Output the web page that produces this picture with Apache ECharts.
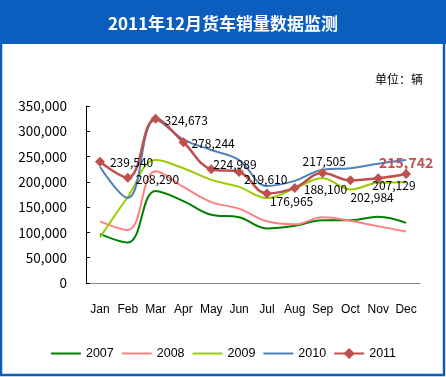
<!DOCTYPE html>
<html>
<head>
<meta charset="utf-8">
<script src="https://cdn.jsdelivr.net/npm/echarts@6/dist/echarts.min.js"></script>
<style>
  html, body { margin: 0; padding: 0; background: #fff; }
  #chart { width: 446px; height: 377px; }
</style>
</head>
<body>
<div id="chart"></div>
<script>
// values (units: vehicles)
const months = ['Jan', 'Feb', 'Mar', 'Apr', 'May', 'Jun', 'Jul', 'Aug', 'Sep', 'Oct', 'Nov', 'Dec'];
const years = ['2007', '2008', '2009', '2010', '2011'];
const sales2007 = [97000, 80000, 182000, 162000, 135000, 130000, 108000, 113000, 124000, 124000, 131000, 119000];
const sales2008 = [122000, 105000, 221000, 190000, 160000, 147000, 122000, 116000, 130000, 123000, 112000, 102000];
const sales2009 = [90000, 170000, 243000, 227000, 204000, 190000, 168000, 187000, 207000, 185000, 198000, 199000];
const sales2010 = [230000, 168000, 323000, 284000, 263000, 243000, 192000, 202000, 224000, 227000, 236000, 243000];
const sales2011 = [239540, 208290, 324673, 278244, 224989, 219610, 176965, 188100, 217505, 202984, 207129, 215742];
const yMax = 350000;
const yStep = 50000;

const colors = ['#008000', '#FF8080', '#99CC00', '#4F81BD', '#C0504D'];
const blue = '#0B5EBE';

// where each 2011 label sits, relative to the right of its marker
const labelShift = [[0, 1], [-2, 2], [-1, 2], [-2, 1], [-8, -5], [-5, 7], [-7, 8],
                    [-1, 2], [-30, -12], [-10, 17], [-16, 7], [-37, -11]];

const fmt = v => String(v).replace(/\B(?=(\d{3})+(?!\d))/g, ',');

const chart = echarts.init(document.getElementById('chart'));

const plain = (name, data, i) => ({
    name: name,
    type: 'line',
    data: data,
    smooth: 0.4,
    symbol: 'none',
    lineStyle: { width: 2, color: colors[i] },
    itemStyle: { color: colors[i] }
});

const last = sales2011.length - 1;
const data2011 = sales2011.map((v, i) => {
    const item = { value: v, label: { offset: labelShift[i] } };
    if (i === last) {
        item.label.color = colors[4];
        item.label.fontWeight = 'bold';
        item.label.fontSize = 14;
    }
    return item;
});

// plain lines in the legend: hide the default dot
const legendItems = years.map((y, i) => i < 4
    ? { name: y, itemStyle: { opacity: 0 }, lineStyle: { opacity: 1 } }
    : { name: y });

chart.setOption({
    animation: false,
    color: colors,
    title: {
        text: '2011年12月货车销量数据监测',
        left: 'center',
        top: 15,
        padding: 0,
        textStyle: { color: '#fff', fontSize: 17, fontWeight: 'bold', fontFamily: 'Noto Sans CJK SC' }
    },
    graphic: [
        { type: 'rect', z: -10, shape: { x: 0, y: 0, width: 446, height: 44 }, style: { fill: blue } },
        { type: 'rect', z: -10, shape: { x: 1, y: 1, width: 443, height: 374 }, style: { fill: 'none', stroke: blue, lineWidth: 2.5 } },
        { type: 'text', right: 23, top: 73, style: { text: '单位：辆', fill: '#000', font: '12px "Noto Sans CJK SC"' } }
    ],
    legend: {
        data: legendItems,
        left: 'center',
        top: 342,
        itemWidth: 30,
        itemHeight: 14,
        itemGap: 7,
        textStyle: { fontSize: 12.5, color: '#000', fontFamily: 'Liberation Sans' }
    },
    grid: { left: 86, right: 26, top: 106, bottom: 94 },
    xAxis: {
        type: 'category',
        data: months,
        axisLine: { lineStyle: { color: '#868686', width: 1 } },
        axisTick: { inside: true, length: 4, lineStyle: { color: '#868686' } },
        axisLabel: { interval: 0, margin: 21, color: '#000', fontSize: 12, fontFamily: 'Liberation Sans' }
    },
    yAxis: {
        type: 'value',
        min: 0,
        max: yMax,
        interval: yStep,
        splitLine: { show: false },
        axisLine: { show: true, lineStyle: { color: '#000', width: 1 } },
        axisTick: { show: true, inside: true, length: 4, lineStyle: { color: '#000' } },
        axisLabel: { margin: 19, color: '#000', fontSize: 13.5, fontFamily: 'Noto Sans CJK SC', formatter: fmt }
    },
    series: [
        plain(years[0], sales2007, 0),
        plain(years[1], sales2008, 1),
        plain(years[2], sales2009, 2),
        plain(years[3], sales2010, 3),
        {
            name: years[4],
            type: 'line',
            data: data2011,
            smooth: 0.4,
            symbol: 'diamond',
            symbolSize: 10,
            lineStyle: { width: 2.5, color: colors[4] },
            itemStyle: { color: colors[4] },
            label: {
                show: true,
                position: 'right',
                distance: 5,
                color: '#000',
                fontSize: 12,
                fontFamily: 'Noto Sans CJK SC',
                formatter: p => fmt(p.value)
            }
        }
    ]
});
</script>
</body>
</html>
